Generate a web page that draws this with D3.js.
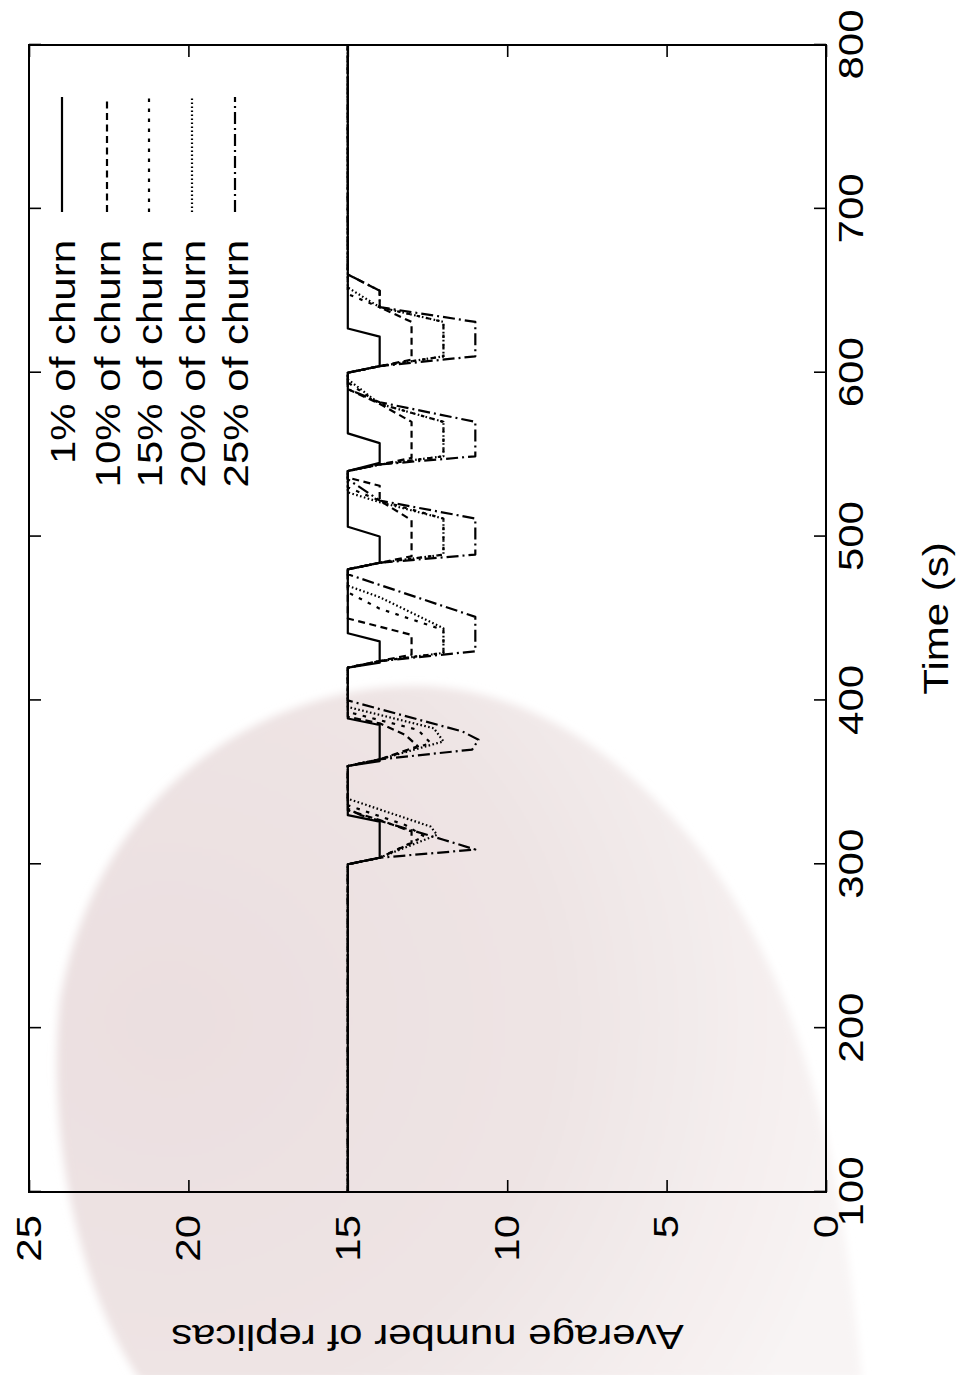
<!DOCTYPE html>
<html><head><meta charset="utf-8">
<script src="https://cdn.jsdelivr.net/npm/d3@7"></script>
<style>body{margin:0;background:#fff} svg{display:block}</style>
</head><body>
<svg id="c" width="958" height="1375"></svg>
<script>
// ---- data ----
const timeTicks = [100,200,300,400,500,600,700,800];
const valueTicks = [0,5,10,15,20,25];
const seriesNames = ["1% of churn","10% of churn","15% of churn","20% of churn","25% of churn"];
const xLabel = "Time (s)";
const yLabel = "Average number of replicas";

const churn1 = [[100,15],[300,15],[304,14],[326,14],[330,15],[360,15],[363,14],[385,14],[389,15],[420,15],[423,14],[436,14],[441,15],[480,15],[484,14],[500,14],[506,15],[540,15],[545,14],[557,14],[563,15],[600,15],[604,14],[622,14],[627,15],[800,15]];
const churn10 = [[100,15],[300,15],[304,14],[313,13],[320,13],[327,14],[333,15],[360,15],[364,14],[372,12.8],[379,13.2],[386,14],[390,15],[420,15],[424,14],[428,13],[440,13],[450,15],[480,15],[484,14],[488,13],[510,13],[522,14],[531,14],[536,15],[540,15],[544,14],[548,13],[570,13],[581,14],[590,15],[600,15],[604,14],[608,13],[631,13],[640,14],[650,14],[660,15],[800,15]];
const churn15 = [[100,15],[300,15],[304,14],[317,12.6],[324,13.2],[336,15],[360,15],[364,14],[374,12.4],[382,12.8],[393,15],[420,15],[424,14],[429,12],[443,12],[456,14],[466,15],[480,15],[484,14],[489,12],[511,12],[522,14],[530,15],[540,15],[544,14],[549,12],[570,12],[581,14],[594,15],[600,15],[604,14],[610,12],[631,12],[640,14],[648,15],[800,15]];
const churn20 = [[100,15],[300,15],[304,14],[318,12.2],[323,12.4],[340,15],[360,15],[364,14],[375,12],[383,12.3],[396,15],[420,15],[424,14],[429,12],[444,12],[463,14],[470,15],[480,15],[484,14],[489,12],[511,12],[521,14],[527,15],[540,15],[544,14],[549,12],[570,12],[581,14],[596,15],[600,15],[604,14],[610,12],[631,12],[640,14],[652,15],[800,15]];
const churn25 = [[100,15],[300,15],[304,14],[309,11],[315,12],[330,14.6],[334,15],[360,15],[364,14],[370,11.1],[376,10.9],[381,11.4],[400,15],[420,15],[424,14],[430,11],[451,11],[477,15],[480,15],[484,14],[489,11],[511,11],[522,14],[535,15],[540,15],[544,14],[549,11],[570,11],[582,14],[590,15],[600,15],[604,14],[610,11],[631,11],[640,14],[650,14],[660,15],[800,15]];

const seriesData = [churn1, churn10, churn15, churn20, churn25];
const dashes = [null, "7,4.5", "3.5,6.5", "1.6,2.4", "12,4,2,4"];

// ---- drawing ----
const svg = d3.select("#c");
const FONT = "'Liberation Sans', Arial, Helvetica, sans-serif";
const fs = 35, SX = 1.2;

// background stain
const defs = svg.append("defs");
const rg = defs.append("radialGradient").attr("id","stain")
  .attr("gradientUnits","userSpaceOnUse").attr("cx",170).attr("cy",1020).attr("r",700);
rg.append("stop").attr("offset",0).attr("stop-color","#ebdfe0");
rg.append("stop").attr("offset",0.55).attr("stop-color","#eee4e4");
rg.append("stop").attr("offset",1).attr("stop-color","#f8f4f4");
defs.append("filter").attr("id","soft").attr("x","-20%").attr("y","-20%").attr("width","140%").attr("height","140%")
  .append("feGaussianBlur").attr("stdDeviation",4);
svg.append("path")
  .attr("d","M410,686 C250,690 95,800 60,1000 C45,1150 85,1300 140,1380 L862,1380 C845,1200 815,1000 700,850 C620,750 520,684 410,686 Z")
  .attr("fill","url(#stain)").attr("filter","url(#soft)");

// chart drawn in its original orientation, then rotated
const W = 1375;
const g = svg.append("g").attr("transform",`translate(0,${W}) rotate(-90)`);
const x = d3.scaleLinear().domain([100,800]).range([183,1330]);
const y = d3.scaleLinear().domain([0,25]).range([826,29]);

function styleAxis(sel){
  sel.select(".domain").remove();
  sel.selectAll(".tick line").attr("stroke","#000").attr("stroke-width",1.6);
  sel.selectAll(".tick text").each(function(){
    const t = d3.select(this);
    const tx = +(t.attr("x")||0), ty = +(t.attr("y")||0);
    t.attr("x",null).attr("y",null)
     .attr("transform",`translate(${tx},${ty}) scale(${SX},1)`)
     .attr("font-family",FONT).attr("font-size",fs).attr("fill","#000");
  });
}
g.append("g").attr("transform",`translate(0,${y(0)})`)
  .call(d3.axisBottom(x).tickValues(timeTicks).tickSize(-12).tickPadding(12).tickFormat(d3.format("d")))
  .call(styleAxis);
g.append("g").attr("transform",`translate(0,${y(25)})`)
  .call(d3.axisTop(x).tickValues(timeTicks).tickSize(-12).tickFormat(""))
  .call(styleAxis);
g.append("g").attr("transform",`translate(${x(100)},0)`)
  .call(d3.axisLeft(y).tickValues(valueTicks).tickSize(-12).tickPadding(23).tickFormat(d3.format("d")))
  .call(styleAxis);
g.append("g").attr("transform",`translate(${x(800)},0)`)
  .call(d3.axisRight(y).tickValues(valueTicks).tickSize(-12).tickFormat(""))
  .call(styleAxis);

// lines
const line = d3.line().x(d=>x(d[0])).y(d=>y(d[1]));
seriesData.forEach((data,i)=>{
  g.append("path").datum(data).attr("d",line)
    .attr("fill","none").attr("stroke","#000").attr("stroke-width",2.2)
    .attr("stroke-linejoin","round")
    .attr("stroke-dasharray",dashes[i]);
});

// frame
g.append("rect").attr("x",x(100)).attr("y",y(25))
  .attr("width",x(800)-x(100)).attr("height",y(0)-y(25))
  .attr("fill","none").attr("stroke","#000").attr("stroke-width",2);

// legend
const legRows = [62,107,149,192,235];
seriesNames.forEach((name,i)=>{
  g.append("text").attr("transform",`translate(1135,${legRows[i]}) scale(${SX},1)`).attr("dy","0.36em")
    .attr("text-anchor","end").attr("font-family",FONT).attr("font-size",fs).text(name);
  g.append("line").attr("x1",1163).attr("x2",1278).attr("y1",legRows[i]).attr("y2",legRows[i])
    .attr("stroke","#000").attr("stroke-width",2.2).attr("stroke-dasharray",dashes[i]);
});

// axis labels
g.append("text").attr("transform",`translate(${(x(100)+x(800))/2},935) scale(${SX},1)`).attr("dy","0.36em")
  .attr("text-anchor","middle").attr("font-family",FONT).attr("font-size",fs).text(xLabel);
g.append("text").attr("transform",`translate(50,${(y(0)+y(25))/2}) rotate(-90) scale(${SX},1)`)
  .attr("text-anchor","middle").attr("font-family",FONT).attr("font-size",fs).text(yLabel);
</script>
</body></html>
